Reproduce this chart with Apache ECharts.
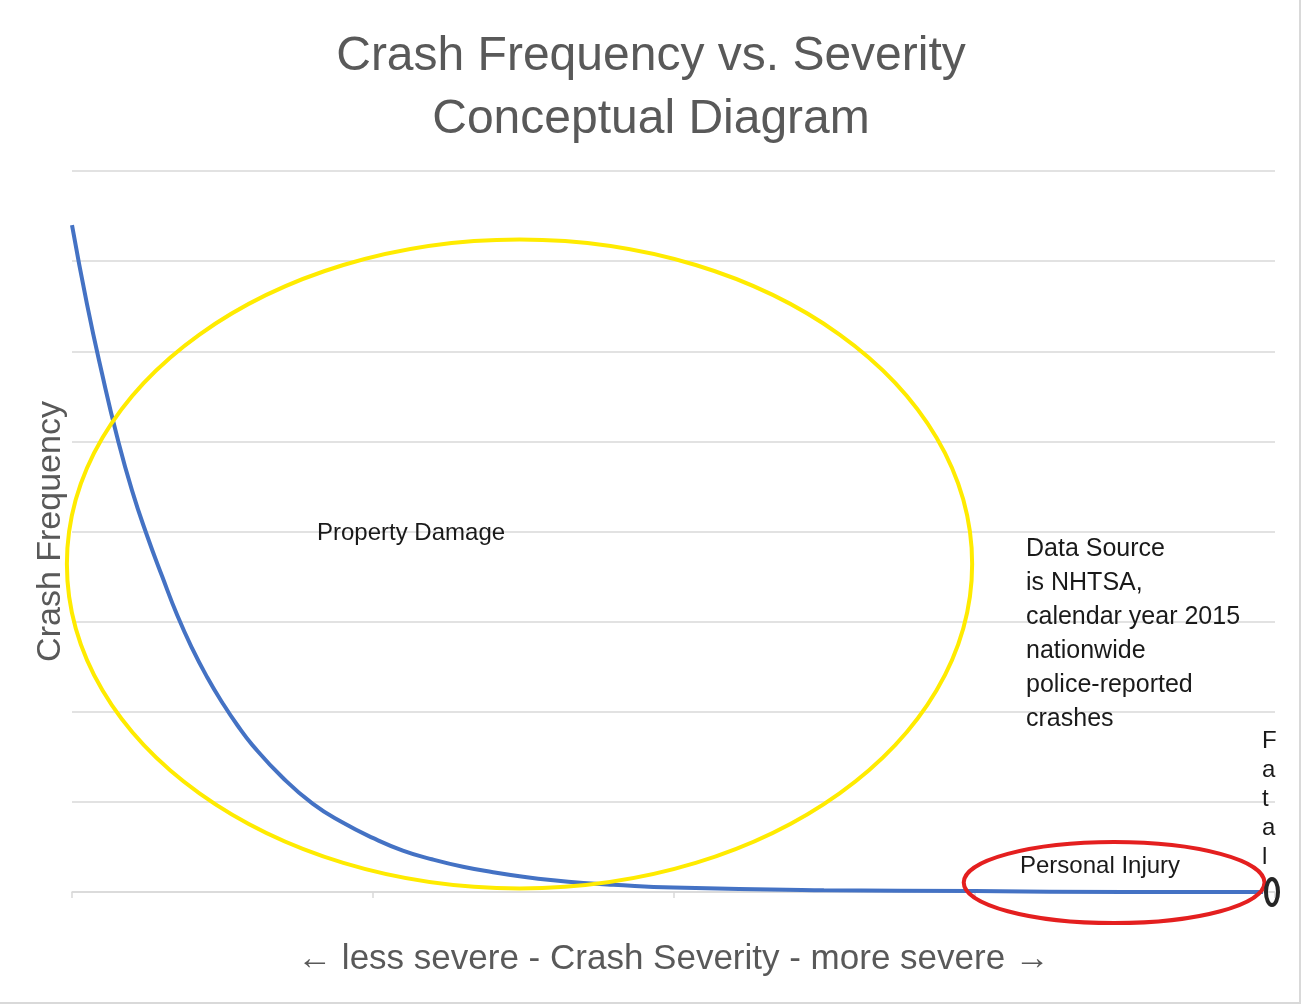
<!DOCTYPE html>
<html>
<head>
<meta charset="utf-8">
<script src="https://cdn.jsdelivr.net/npm/echarts@6/dist/echarts.min.js"></script>
<style>
  html, body { margin: 0; padding: 0; background: #fff; }
  #main { width: 1302px; height: 1006px; }
</style>
</head>
<body>
<div id="main"></div>
<script>
// crash severity (x) vs frequency (y)
const severity = [0, 0.05, 0.1, 0.15, 0.2, 0.25, 0.3, 0.35, 0.4, 0.45, 0.5, 0.55, 0.6, 0.7, 0.8, 0.9, 1.0, 1.1, 1.2, 1.3, 1.4, 1.5, 1.6, 1.7, 1.8, 2.0, 2.5, 3.0, 3.5, 3.96]
const frequency = [7.4, 6.52, 5.75, 5.05, 4.45, 3.95, 3.5, 3.07, 2.7, 2.38, 2.1, 1.85, 1.63, 1.27, 0.98, 0.77, 0.6, 0.46, 0.36, 0.28, 0.22, 0.17, 0.13, 0.1, 0.08, 0.05, 0.02, 0.01, 0.0, 0.0]

// ellipses in data units: [cx, cy, rx, ry]
const propertyEllipse = [1.488, 3.64, 1.505, 3.6]
const injuryEllipse = [3.465, 0.105, 0.5, 0.45]
const fatalEllipse = [3.99, 0, 0.02, 0.145]

const sourceLines = ['Data Source', 'is NHTSA,', 'calendar year 2015', 'nationwide', 'police-reported', 'crashes']

const font = 'Liberation Sans, Arial, sans-serif'
const chart = echarts.init(document.getElementById('main'))

const option = {
  animation: false,
  title: {
    text: 'Crash Frequency vs. Severity\nConceptual Diagram',
    left: 'center',
    top: 20,
    textStyle: { fontFamily: font, fontSize: 48, fontWeight: 'normal', color: '#595959', lineHeight: 63 }
  },
  grid: { left: 72, right: 27, top: 171, bottom: 114 },
  xAxis: {
    type: 'value',
    min: 0,
    max: 4,
    interval: 1,
    name: '\u2190 less severe - Crash Severity - more severe \u2192',
    nameLocation: 'middle',
    nameGap: 50,
    nameTextStyle: { fontFamily: font, fontSize: 35, color: '#595959' },
    axisLine: { lineStyle: { color: '#d9d9d9', width: 1.5 } },
    axisTick: { show: true, length: 6, lineStyle: { color: '#d9d9d9', width: 1.5 } },
    axisLabel: { show: false },
    splitLine: { show: false }
  },
  yAxis: {
    type: 'value',
    min: 0,
    max: 8,
    interval: 1,
    name: 'Crash Frequency',
    nameLocation: 'middle',
    nameRotate: 90,
    nameGap: 4,
    nameTextStyle: { fontFamily: font, fontSize: 34, color: '#595959' },
    axisLine: { show: false },
    axisTick: { show: false },
    axisLabel: { show: false },
    splitLine: { lineStyle: { color: '#d9d9d9', width: 1.5 } }
  },
  series: [{
    type: 'line',
    data: severity.map((x, i) => [x, frequency[i]]),
    smooth: true,
    showSymbol: false,
    lineStyle: { color: '#4472C4', width: 4 },
    z: 2
  }]
}
chart.setOption(option)

function ellipseShape(e) {
  const c = chart.convertToPixel({ gridIndex: 0 }, [e[0], e[1]])
  const r = chart.convertToPixel({ gridIndex: 0 }, [e[0] + e[2], e[1] + e[3]])
  return { cx: c[0], cy: c[1], rx: r[0] - c[0], ry: c[1] - r[1] }
}

chart.setOption({
  graphic: [
    { type: 'ellipse', shape: ellipseShape(propertyEllipse), style: { fill: 'none', stroke: '#ffeb00', lineWidth: 4 }, z: 10 },
    { type: 'ellipse', shape: ellipseShape(injuryEllipse), style: { fill: 'none', stroke: '#e41f1f', lineWidth: 4 }, z: 10 },
    { type: 'ellipse', shape: ellipseShape(fatalEllipse), style: { fill: 'none', stroke: '#262626', lineWidth: 4 }, z: 10 },
    { type: 'text', left: 317, top: 521, style: { text: 'Property Damage', font: '24px ' + font, fill: '#1a1a1a' }, z: 11 },
    { type: 'text', left: 1020, top: 854, style: { text: 'Personal Injury', font: '24px ' + font, fill: '#1a1a1a' }, z: 11 },
    { type: 'text', left: 1026, top: 532, style: { text: sourceLines.join('\n'), font: '25px ' + font, fill: '#1a1a1a', lineHeight: 34 }, z: 11 },
    { type: 'text', left: 1262, top: 727, style: { text: 'F\na\nt\na\nl', font: '24px ' + font, fill: '#1a1a1a', lineHeight: 29, align: 'center' }, z: 11 },
    { type: 'line', shape: { x1: 1300, y1: 0, x2: 1300, y2: 1004 }, style: { stroke: '#d9d9d9', lineWidth: 2 } },
    { type: 'line', shape: { x1: 0, y1: 1003, x2: 1301, y2: 1003 }, style: { stroke: '#d9d9d9', lineWidth: 2 } }
  ]
})
</script>
</body>
</html>
